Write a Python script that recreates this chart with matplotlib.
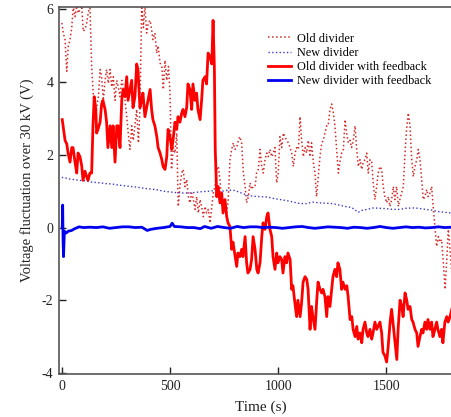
# GRAFICA: FLUCTUACION DE VOLTAJE SOBRE 30 kV
# Divisor viejo / nuevo, con y sin realimentacion

import numpy as np
import matplotlib.pyplot as plt

plt.rcParams['font.family'] = ['Liberation Serif', 'DejaVu Serif']
plt.rcParams['axes.unicode_minus'] = False

# DATOS

# Old divider (punteado rojo)
t_old = np.array([
    0, 7, 15, 23, 30, 38, 46, 53, 61, 69, 76, 92, 99, 107, 115, 122, 130,
    138, 146, 153, 161, 169, 177, 184, 192, 200, 207, 215, 223, 231, 238,
    246, 254, 261, 269, 277, 284, 292, 300, 307, 315, 323, 330, 338, 346,
    354, 361, 369, 377, 384, 392, 400, 408, 415, 421, 430, 439, 445, 454,
    462, 469, 477, 485, 493, 500, 507, 515, 523, 531, 538, 546, 554, 561,
    569, 577, 585, 592, 600, 608, 616, 623, 631, 639, 646, 654, 662, 669,
    677, 685, 693, 700, 708, 716, 723, 731, 739, 746, 754, 762, 769, 777,
    785, 792, 800, 808, 816, 823, 831, 839, 847, 854, 862, 870, 877, 885,
    893, 900, 908, 916, 924, 931, 939, 947, 954, 962, 970, 977, 985, 993,
    1000, 1008, 1016, 1024, 1031, 1039, 1047, 1055, 1062, 1070, 1078, 1085,
    1093, 1101, 1108, 1116, 1124, 1131, 1139, 1147, 1154, 1162, 1170, 1177,
    1185, 1193, 1201, 1208, 1216, 1224, 1231, 1239, 1247, 1255, 1262, 1270,
    1278, 1285, 1293, 1301, 1309, 1316, 1324, 1332, 1339, 1347, 1355, 1362,
    1370, 1378, 1386, 1393, 1401, 1409, 1416, 1424, 1432, 1439, 1447, 1455,
    1462, 1470, 1478, 1485, 1493, 1501, 1509, 1516, 1524, 1532, 1539, 1547,
    1555, 1562, 1570, 1578, 1586, 1593, 1601, 1609, 1616, 1624, 1632, 1640,
    1647, 1655, 1663, 1670, 1678, 1686, 1693, 1701, 1709, 1716, 1724, 1732,
    1740, 1747, 1755, 1763, 1771, 1778, 1786, 1794, 1802
])
v_old = np.array([
    5.63, 5.35, 5.17, 4.3, 5.0, 5.17, 5.5, 6.1, 5.8, 6.1, 5.9, 6.1, 5.4,
    5.45, 5.63, 5.9, 6.1, 4.43, 3.6, 2.97, 3.3, 3.6, 4.35, 4.15, 3.5, 4.05,
    4.35, 3.97, 4.35, 3.87, 4.15, 3.5, 4.05, 3.87, 3.6, 4.05, 3.87, 3.5,
    3.05, 2.6, 2.15, 2.8, 2.4, 2.8, 3.25, 2.33, 3.25, 6.1, 5.5, 6.1, 5.35,
    5.63, 5.7, 5.45, 5.17, 5.35, 4.8, 5.0, 4.53, 4.43, 3.8, 4.6, 4.05,
    4.43, 3.7, 1.6, 2.2, 2.05, 2.6, 0.58, 1.13, 1.5, 1.6, 1.13, 1.32, 0.85,
    0.68, 0.95, 0.77, 0.5, 0.85, 0.4, 0.77, 0.58, 0.3, 0.58, 0.4, 0.5,
    0.13, 0.58, 0.95, 1.13, 1.6, 1.68, 1.32, 0.58, 0.77, 0.5, 0.4, 0.77,
    1.87, 2.15, 2.33, 2.15, 2.2, 2.4, 2.5, 2.33, 1.5, 1.13, 0.68, 0.85,
    1.23, 1.05, 1.13, 1.13, 1.5, 1.6, 2.15, 1.68, 1.5, 1.87, 2.05, 1.95,
    2.15, 1.95, 2.05, 2.2, 1.23, 1.5, 2.5, 2.2, 2.6, 2.5, 2.4, 2.33, 2.2,
    2.05, 1.68, 2.05, 2.2, 2.15, 3.05, 2.4, 1.95, 2.2, 2.05, 2.4, 1.95,
    2.33, 1.8, 1.5, 0.85, 1.4, 1.95, 2.33, 2.4, 2.6, 2.8, 2.8, 3.25, 3.4,
    3.15, 2.8, 2.15, 1.5, 1.8, 2.05, 2.15, 2.97, 2.6, 2.33, 2.4, 2.2, 2.4,
    2.8, 2.2, 1.68, 1.87, 1.6, 1.8, 1.87, 2.05, 1.5, 1.87, 1.8, 1.23, 0.77,
    1.13, 1.5, 1.68, 1.6, 1.13, 0.85, 0.68, 0.85, 0.58, 0.77, 1.13, 0.77,
    1.13, 0.58, 0.77, 0.95, 1.13, 2.05, 2.7, 3.15, 2.8, 1.95, 1.4, 1.68,
    1.87, 2.15, 1.87, 1.32, 0.77, 0.85, 1.05, 0.85, 0.95, 1.13, 0.58, 0.03,
    -0.52, -0.25, -0.4, -0.33, -0.97, -1.7, -0.97, -0.05, -0.6, -1.25
])

# New divider (punteado azul)
t_new = np.array([
    0, 20, 40, 60, 80, 100, 120, 140, 160, 180, 200, 230, 260, 290, 320,
    350, 380, 410, 440, 470, 500, 530, 560, 590, 620, 650, 680, 710, 740,
    770, 800, 830, 860, 890, 920, 950, 980, 1010, 1040, 1070, 1100, 1130,
    1160, 1190, 1220, 1250, 1280, 1310, 1340, 1370, 1385, 1410, 1440, 1470,
    1500, 1530, 1560, 1590, 1620, 1650, 1680, 1710, 1740, 1770, 1800
])
v_new = np.array([
    1.38, 1.36, 1.33, 1.32, 1.3, 1.29, 1.27, 1.25, 1.24, 1.23, 1.21, 1.2,
    1.17, 1.15, 1.13, 1.11, 1.08, 1.06, 1.04, 1.0, 0.98, 0.96, 0.95, 0.95,
    0.97, 0.99, 1.0, 1.02, 1.0, 1.03, 1.02, 0.95, 0.88, 0.86, 0.85, 0.84,
    0.8, 0.77, 0.74, 0.7, 0.66, 0.66, 0.7, 0.68, 0.67, 0.66, 0.62, 0.58,
    0.55, 0.42, 0.47, 0.5, 0.54, 0.53, 0.52, 0.5, 0.5, 0.53, 0.54, 0.53,
    0.5, 0.48, 0.44, 0.42, 0.4
])

# Old divider with feedback (rojo continuo)
t_old_fb = np.array([
    2, 15, 23, 29, 38, 46, 52, 61, 69, 75, 84, 92, 98, 107, 115, 121, 130,
    138, 144, 150, 157, 161, 167, 177, 184, 190, 200, 207, 213, 223, 231,
    237, 246, 254, 260, 269, 277, 283, 292, 300, 306, 315, 323, 329, 338,
    346, 352, 361, 369, 375, 384, 392, 398, 408, 415, 421, 430, 439, 445,
    454, 462, 468, 477, 485, 491, 500, 508, 514, 523, 531, 537, 546, 554,
    560, 569, 577, 583, 592, 600, 606, 615, 623, 629, 639, 646, 652, 662,
    669, 676, 685, 693, 699, 705, 709, 716, 722, 731, 739, 745, 754, 762,
    768, 777, 785, 791, 801, 808, 814, 823, 831, 837, 847, 854, 860, 870,
    877, 884, 893, 901, 907, 916, 924, 930, 939, 947, 953, 962, 970, 976,
    985, 993, 999, 1008, 1016, 1022, 1031, 1039, 1045, 1055, 1062, 1068,
    1077, 1085, 1091, 1101, 1108, 1115, 1124, 1132, 1138, 1147, 1154, 1160,
    1170, 1178, 1184, 1193, 1201, 1207, 1216, 1224, 1230, 1239, 1247, 1253,
    1262, 1270, 1276, 1285, 1293, 1299, 1309, 1317, 1323, 1332, 1340, 1346,
    1355, 1363, 1369, 1378, 1386, 1392, 1401, 1409, 1415, 1424, 1432, 1438,
    1447, 1455, 1461, 1470, 1478, 1484, 1493, 1501, 1507, 1517, 1524, 1530,
    1540, 1548, 1554, 1563, 1571, 1577, 1586, 1594, 1600, 1609, 1617, 1623,
    1632, 1640, 1646, 1655, 1663, 1669, 1678, 1686, 1692, 1701, 1709, 1715,
    1724, 1732, 1738, 1747, 1755, 1761, 1770, 1779, 1785, 1794, 1802
])
v_old_fb = np.array([
    2.97, 2.4, 2.3, 2.05, 1.8, 2.2, 2.2, 1.8, 1.5, 2.05, 1.95, 1.7, 1.3,
    1.55, 1.4, 1.3, 1.5, 1.5, 2.8, 3.6, 3.25, 2.6, 2.7, 2.9, 3.4, 3.5,
    3.25, 2.9, 2.2, 2.8, 2.2, 2.8, 1.8, 2.8, 2.8, 2.2, 3.5, 3.8, 3.6, 4.15,
    3.5, 3.8, 4.05, 3.3, 3.6, 4.5, 4.35, 3.3, 3.5, 3.7, 3.05, 3.3, 3.5,
    3.8, 3.25, 2.97, 2.8, 2.5, 2.2, 2.05, 1.87, 1.68, 1.6, 1.95, 2.7, 2.5,
    2.15, 2.4, 2.9, 2.7, 3.05, 2.9, 3.15, 3.25, 3.05, 3.3, 3.95, 3.8, 3.25,
    3.95, 3.5, 3.7, 3.25, 2.97, 3.5, 4.05, 4.15, 3.95, 4.8, 4.7, 4.5, 5.7,
    4.4, 2.15, 0.85, 1.13, 0.68, 0.95, 0.4, 0.77, 0.3, 0.13, 0.03, -0.6,
    -0.4, -0.8, -1.07, -0.7, -0.8, -0.6, -0.8, -0.25, -0.97, -1.25, -1.15,
    -0.88, -0.25, -0.6, -1.15, -1.25, -0.97, -0.25, 0.13, -0.05, 0.3, 0.4,
    -0.05, -0.25, -0.8, -1.15, -0.7, -0.97, -0.8, -0.88, -1.25, -0.8,
    -0.97, -0.7, -0.88, -1.7, -1.6, -2.07, -2.45, -2.0, -2.45, -2.07, -1.5,
    -1.35, -1.43, -1.7, -2.8, -2.17, -2.45, -2.8, -2.0, -1.5, -1.7, -1.8,
    -1.7, -1.9, -2.45, -1.9, -2.17, -1.7, -1.35, -1.15, -1.35, -0.97,
    -1.15, -1.7, -1.5, -1.7, -1.6, -1.9, -2.53, -2.45, -2.8, -3.0, -2.72,
    -3.07, -2.9, -3.17, -2.8, -2.6, -2.9, -3.0, -2.8, -3.07, -2.9, -2.6,
    -2.8, -2.72, -2.6, -2.9, -3.43, -3.53, -3.7, -3.35, -2.6, -2.25, -2.6,
    -3.17, -3.63, -2.8, -2.0, -2.17, -2.45, -1.8, -2.0, -2.25, -2.17,
    -2.53, -2.6, -2.8, -2.9, -3.27, -3.0, -2.8, -2.9, -2.6, -2.8, -2.53,
    -2.8, -2.6, -3.0, -2.8, -2.6, -2.8, -3.0, -2.8, -3.17, -2.6, -2.45,
    -2.6, -2.45, -2.25
])

# New divider with feedback (azul continuo)
t_new_fb = np.array([
    2, 4, 6, 8, 12, 20, 30, 45, 60, 80, 100, 130, 160, 190, 220, 250, 280,
    310, 340, 370, 395, 410, 440, 470, 500, 510, 520, 550, 580, 610, 640,
    660, 690, 720, 750, 780, 810, 840, 870, 900, 930, 960, 990, 1020, 1050,
    1080, 1110, 1140, 1170, 1200, 1230, 1260, 1290, 1320, 1350, 1380, 1410,
    1440, 1470, 1500, 1530, 1560, 1590, 1620, 1650, 1680, 1710, 1740, 1770,
    1800
])
v_new_fb = np.array([
    0.0, 0.62, -0.4, -0.8, -0.1, -0.15, -0.1, -0.08, -0.03, 0.02, 0.0,
    0.01, 0.0, 0.02, -0.02, 0.0, 0.02, 0.02, 0.0, 0.01, -0.08, -0.05,
    -0.02, 0.0, 0.03, 0.12, 0.03, 0.02, 0.0, 0.0, -0.03, 0.03, -0.02, 0.03,
    0.0, -0.02, 0.03, 0.0, 0.02, 0.02, 0.0, 0.01, 0.0, -0.02, 0.0, 0.02,
    0.03, 0.0, -0.02, 0.0, 0.02, 0.01, 0.0, -0.02, 0.01, 0.0, -0.02, 0.0,
    0.03, 0.0, -0.02, 0.0, 0.02, 0.0, 0.01, -0.01, 0.0, 0.02, 0.0, 0.01
])

# FIGURA

fig = plt.figure(figsize=(4.52, 4.17), dpi=100)

ax = fig.add_axes([0.1305, 0.103, 0.8695, 0.8795])

ax.plot(t_old, v_old, linestyle=':', color='#d42a2a',
        linewidth=1.1, label="Old divider")

ax.plot(t_new, v_new, linestyle=':', color='#3a3ad0',
        linewidth=1.0, label="New divider")

ax.plot(t_old_fb, v_old_fb, color='#ff0000',
        linewidth=2.0, label="Old divider with feedback")

ax.plot(t_new_fb, v_new_fb, color='#0000ee',
        linewidth=2.0, label="New divider with feedback")

# EJES

ax.set_xlim(-13, 1803)
ax.set_ylim(-4.03, 6.06)

ax.set_xticks([0, 500, 1000, 1500])
ax.set_yticks([-4, -2, 0, 2, 4, 6])

ax.tick_params(direction='in', length=5, width=1,
               labelsize=10, colors='#222222', pad=4)

for lado in ['left', 'bottom', 'top']:
    ax.spines[lado].set_color('#555555')
    ax.spines[lado].set_linewidth(1.2)
ax.spines['right'].set_visible(False)

ax.set_xlabel("Time (s)", fontsize=11, color='#222222')
ax.set_ylabel("Voltage fluctuation over 30 kV (V)",
              fontsize=10.5, color='#222222')
ax.xaxis.set_label_coords(0.514, -0.072)
ax.yaxis.set_label_coords(-0.064, 0.528)

# LEYENDA

ax.legend(loc='upper left', bbox_to_anchor=(0.532, 0.931),
          frameon=False, fontsize=8.8, borderpad=0,
          borderaxespad=0, handlelength=1.9, handletextpad=0.45,
          labelspacing=0.18)

fig.savefig("out.png", dpi=100)
